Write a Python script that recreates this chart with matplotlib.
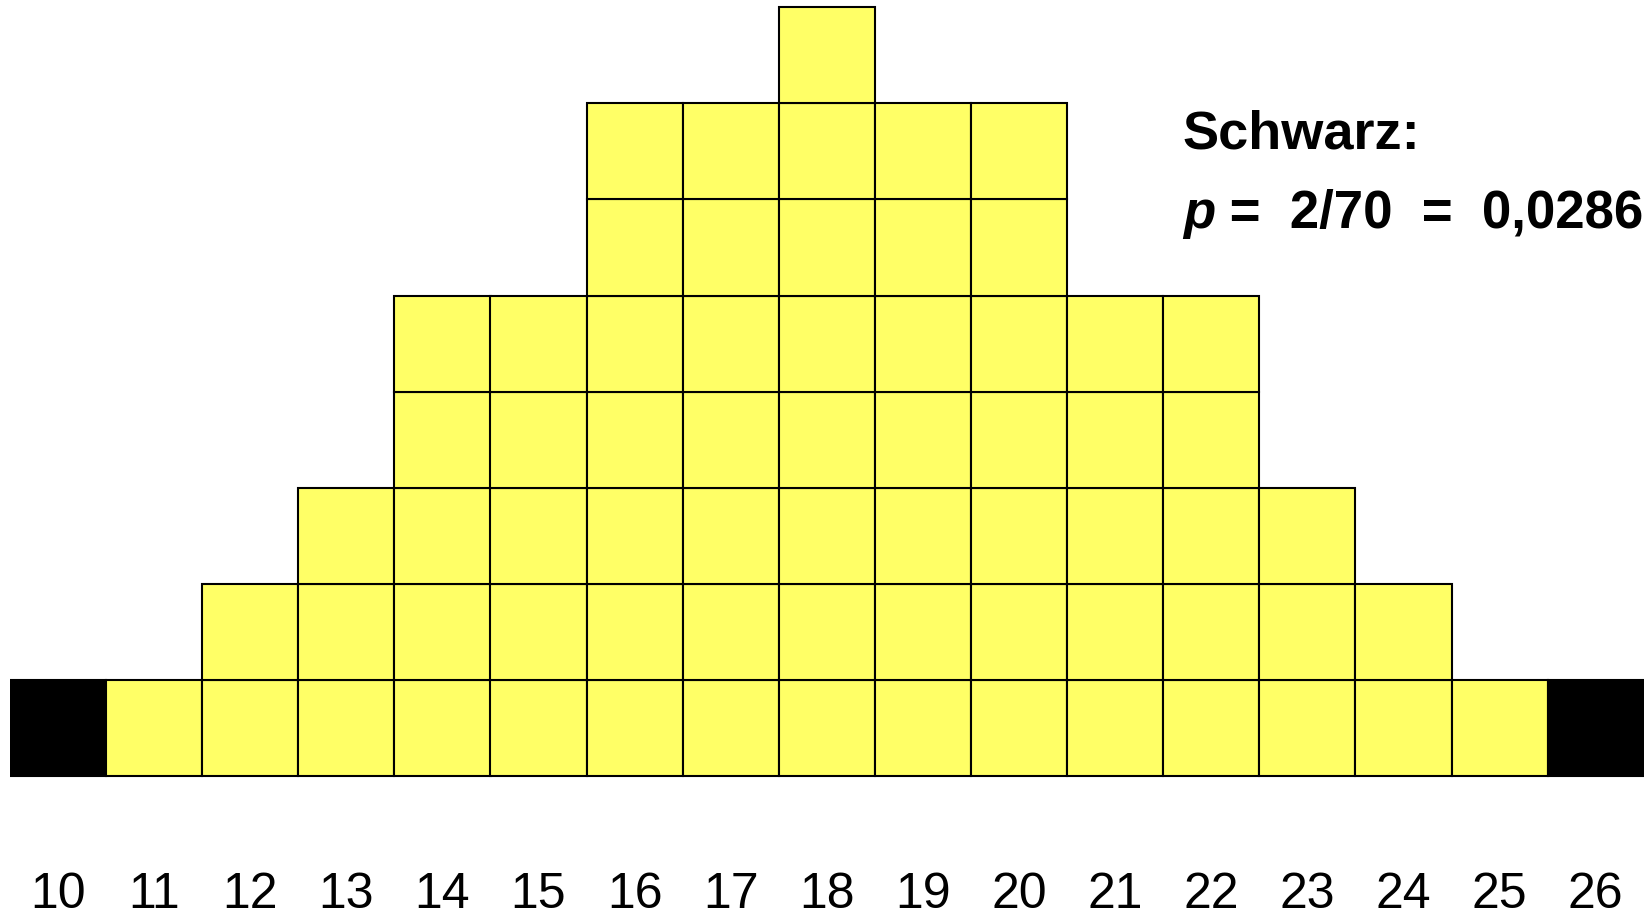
import matplotlib.pyplot as plt

# --- DATI ---
rank_sums = [10, 11, 12, 13, 14, 15, 16, 17, 18, 19, 20, 21, 22, 23, 24, 25, 26]
counts = [1, 1, 2, 3, 5, 5, 7, 7, 8, 7, 7, 5, 5, 3, 2, 1, 1]
tail_values = [10, 26]  # casi estremi (neri)

title_text = "Schwarz:"
p_rest = " =  2/70  =  0,0286"

YELLOW = "#FFFF66"
FONT = "Liberation Sans"

fig = plt.figure(figsize=(16.5, 9.2), dpi=100)
# asse in coordinate "celle": una cella = 96.1 px
cell = 96.1
left = 10 / 1650
width = 17 * cell / 1650
ax = fig.add_axes([left, 0, width, 1])
ax.set_xlim(rank_sums[0] - 0.5, rank_sums[-1] + 0.5)
ax.set_ylim(-143 / cell, (920 - 143) / cell)
ax.axis("off")

for x, n in zip(rank_sums, counts):
    fc = "black" if x in tail_values else YELLOW
    for i in range(n):
        ax.bar(x, 1, bottom=i, width=1, color=fc, edgecolor="black",
               linewidth=1.5, zorder=2)

# etichette sotto le colonne
for x in rank_sums:
    ax.text(x, -(908 - 777) / cell, str(x), ha="center", va="baseline",
            fontsize=36, family=FONT)

# testo in alto a destra
x0 = rank_sums[0] - 0.5 + (1183 - 10) / cell
ax.text(x0, (777 - 148) / cell, title_text, ha="left", va="baseline",
        fontsize=39, fontweight="bold", family=FONT)
t_p = ax.text(x0, (777 - 228) / cell, "p", ha="left", va="baseline",
              fontsize=38, fontweight="bold", fontstyle="italic", family=FONT)
ax.annotate(p_rest, xy=(1, 0), xycoords=t_p, ha="left", va="bottom",
            fontsize=38, fontweight="bold", family=FONT, annotation_clip=False)

fig.savefig("out.png", dpi=100)
